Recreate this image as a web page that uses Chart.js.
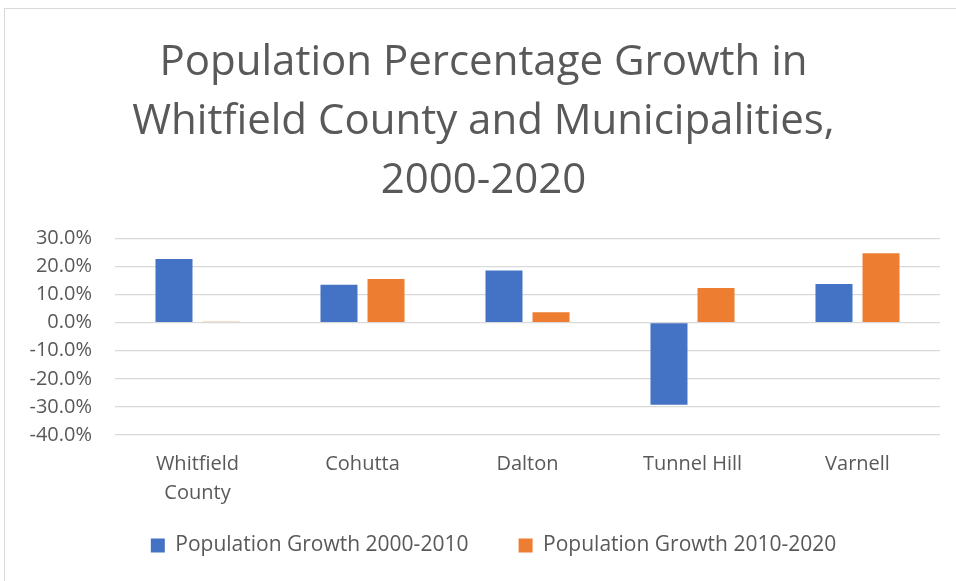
<!DOCTYPE html>
<html>
<head>
<meta charset="utf-8">
<script src="https://cdn.jsdelivr.net/npm/chart.js@4/dist/chart.umd.min.js"></script>
<style>
  html, body { margin: 0; padding: 0; background: #fff; }
  #frame {
    position: absolute; left: 4px; top: 8px;
    width: 960px; height: 580px;
    border: 1px solid #d9d9d9; box-sizing: border-box;
  }
  #wrap { position: absolute; left: 0; top: 0; width: 956px; height: 581px; }
</style>
</head>
<body>
<div id="frame"></div>
<div id="wrap"><canvas id="myChart" width="956" height="581"></canvas></div>
<script>
  'use strict';

  const categories = [['Whitfield', 'County'], 'Cohutta', 'Dalton', 'Tunnel Hill', 'Varnell'];
  const growth2000to2010 = [22.7, 13.5, 18.6, -29.2, 13.8];
  const growth2010to2020 = [0.3, 15.5, 3.7, 12.3, 24.7];
  const yTicks = [30, 20, 10, 0, -10, -20, -30, -40];

  const textColor = '#595959';
  const fontFamily = "'Open Sans', 'Noto Sans', sans-serif";

  /* legend sits a bit right of the chart centre in the original */
  const legendShift = {
    id: 'legendShift',
    afterLayout: function (chart) {
      chart.legend.left += 10;
      chart.legend.right += 10;
    }
  };

  function initChart() {
    const ctx = document.getElementById('myChart').getContext('2d');

    // eslint-disable-next-line no-undef
    const myChart = new Chart(ctx, {
      type: 'bar',
      data: {
        labels: categories,
        datasets: [{
            label: 'Population Growth 2000-2010',
            backgroundColor: '#4472C4',
            borderColor: '#4472C4',
            data: growth2000to2010,
          },
          {
            label: 'Population Growth 2010-2020',
            backgroundColor: '#ED7D31',
            borderColor: '#ED7D31',
            data: growth2010to2020,
          }
        ]
      },
      plugins: [legendShift],
      options: {
        responsive: false,
        animation: false,
        layout: { padding: { left: 27, right: 16, top: 34, bottom: 15 } },
        datasets: {
          bar: { categoryPercentage: 0.57, barPercentage: 0.787 }
        },
        plugins: {
          title: {
            display: true,
            text: ['Population Percentage Growth in', 'Whitfield County and Municipalities,', '2000-2020'],
            color: textColor,
            font: { family: fontFamily, size: 42, weight: 'normal', lineHeight: 1.4 },
            padding: { top: 0, bottom: 28 }
          },
          legend: {
            position: 'bottom',
            labels: {
              color: textColor,
              font: { family: fontFamily, size: 21 },
              boxWidth: 14,
              boxHeight: 14,
              padding: 12,
              // wider gap between the two items, like the original
              generateLabels: function (chart) {
                // eslint-disable-next-line no-undef
                const items = Chart.defaults.plugins.legend.labels.generateLabels(chart);
                items[0].text = items[0].text + '\u00a0'.repeat(7);
                return items;
              }
            }
          },
          tooltip: { enabled: false }
        },
        scales: {
          x: {
            grid: { display: false, drawTicks: false },
            border: { display: false },
            ticks: {
              color: textColor,
              font: { family: fontFamily, size: 20, lineHeight: 1.45 },
              padding: 15,
              maxRotation: 0,
              autoSkip: false
            }
          },
          y: {
            min: -40,
            max: 30,
            afterBuildTicks: function (axis) {
              axis.ticks = yTicks.map(function (v) { return { value: v }; });
            },
            // plot area starts at x = 115 like the original
            afterFit: function (axis) {
              axis.width = 88;
            },
            grid: { color: '#d9d9d9', lineWidth: 1.3, drawTicks: false },
            border: { display: false },
            ticks: {
              color: textColor,
              font: { family: fontFamily, size: 20 },
              padding: 23,
              autoSkip: false,
              callback: function (value) { return value.toFixed(1) + '%'; }
            }
          }
        }
      }
    });
  }

  initChart();
</script>
</body>
</html>
